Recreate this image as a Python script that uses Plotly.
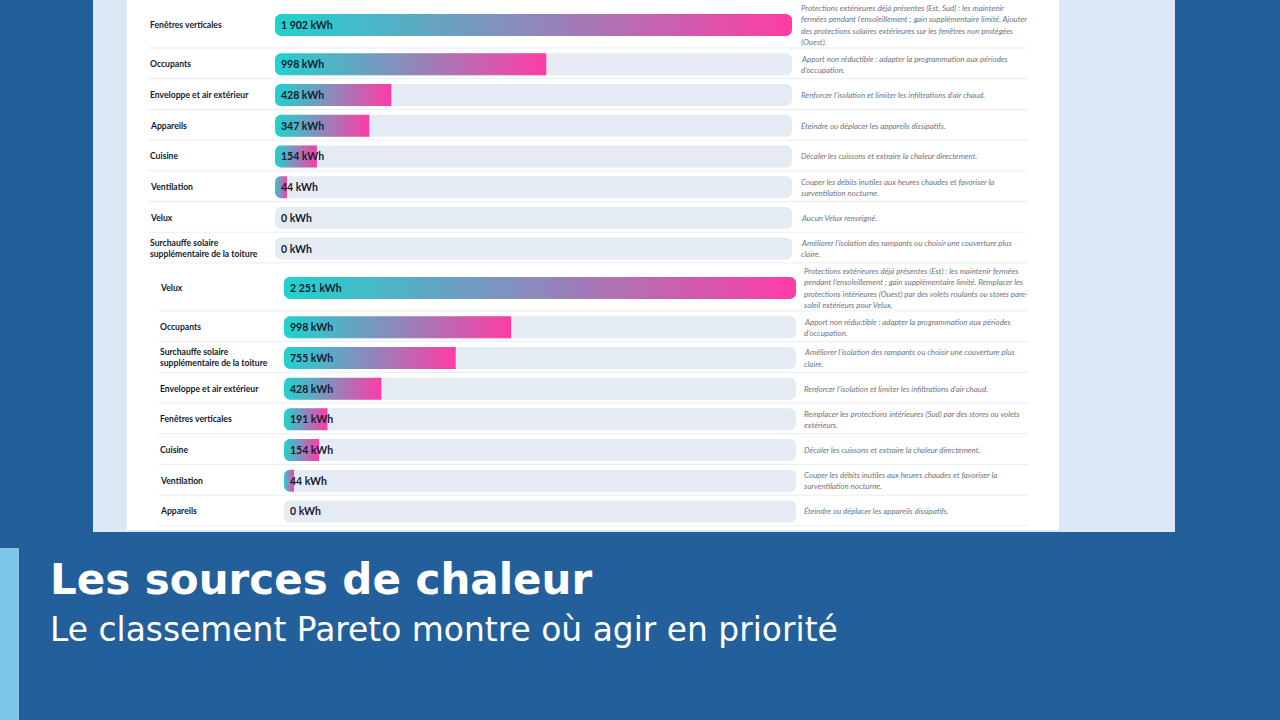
import math
import plotly.graph_objects as go

# ---------------- DATA ----------------
top_categories = ["Fenêtres verticales", "Occupants", "Enveloppe et air extérieur", "Appareils",
                  "Cuisine", "Ventilation", "Velux", "Surchauffe solaire<br>supplémentaire de la toiture"]
top_values = [1902, 998, 428, 347, 154, 44, 0, 0]
top_actions = [
    "Protections extérieures déjà présentes (Est, Sud) : les maintenir<br>fermées pendant l’ensoleillement ; gain supplémentaire limité. Ajouter<br>des protections solaires extérieures sur les fenêtres non protégées<br>(Ouest).",
    "Apport non réductible : adapter la programmation aux périodes<br>d’occupation.",
    "Renforcer l’isolation et limiter les infiltrations d’air chaud.",
    "Éteindre ou déplacer les appareils dissipatifs.",
    "Décaler les cuissons et extraire la chaleur directement.",
    "Couper les débits inutiles aux heures chaudes et favoriser la<br>surventilation nocturne.",
    "Aucun Velux renseigné.",
    "Améliorer l’isolation des rampants ou choisir une couverture plus<br>claire.",
]

bottom_categories = ["Velux", "Occupants", "Surchauffe solaire<br>supplémentaire de la toiture",
                     "Enveloppe et air extérieur", "Fenêtres verticales", "Cuisine", "Ventilation", "Appareils"]
bottom_values = [2251, 998, 755, 428, 191, 154, 44, 0]
bottom_actions = [
    "Protections extérieures déjà présentes (Est) : les maintenir fermées<br>pendant l’ensoleillement ; gain supplémentaire limité. Remplacer les<br>protections intérieures (Ouest) par des volets roulants ou stores pare-<br>soleil extérieurs pour Velux.",
    "Apport non réductible : adapter la programmation aux périodes<br>d’occupation.",
    "Améliorer l’isolation des rampants ou choisir une couverture plus<br>claire.",
    "Renforcer l’isolation et limiter les infiltrations d’air chaud.",
    "Remplacer les protections intérieures (Sud) par des stores ou volets<br>extérieurs.",
    "Décaler les cuissons et extraire la chaleur directement.",
    "Couper les débits inutiles aux heures chaudes et favoriser la<br>surventilation nocturne.",
    "Éteindre ou déplacer les appareils dissipatifs.",
]

title_text = "Les sources de chaleur"
subtitle_text = "Le classement Pareto montre où agir en priorité"
unit = "kWh"

# ---------------- STYLE ----------------
W, H = 1280, 720
SLIDE_BG = "#235f9b"
PANEL_BG = "#dce8f5"
STRIPE = "#7ec6ea"
TRACK = "#e4ebf3"
SEP = "#e8edf2"
LABEL_C = "#141a30"
DESC_C = "#6e7480"
GRAD = [[0, "#1fd3cf"], [1, "#ff3ca6"]]
BAR_H = 22
RADIUS = 6
ROW_H = 30.7
DESC_LINE = 11.3
PLOT_PX = 530  # y axis spans 0..530 px of the page

tables = [
    dict(cats=top_categories, vals=top_values, acts=top_actions, xaxis="x",
         track_px=(275, 792), label_px=148, desc_px=799, sep_px=(148, 1027)),
    dict(cats=bottom_categories, vals=bottom_values, acts=bottom_actions, xaxis="x2",
         track_px=(284, 796), label_px=158, desc_px=802, sep_px=(158, 1028)),
]

fig = go.Figure()
shapes = []
annotations = []


def px(xp):
    return xp / W


def py(yp):
    return 1 - yp / H


def fmt(v):
    return f"{v:,}".replace(",", " ") + " " + unit


def outline(v, yc, ppu, round_right):
    h = BAR_H / 2
    r = min(RADIUS, v * ppu)
    rx = r / ppu
    n = 10
    xs, ys = [], []
    for k in range(n + 1):
        t = math.pi / 2 * (1 - k / n)
        xs.append(rx - rx * math.cos(t)); ys.append(yc + h - r + r * math.sin(t))
    for k in range(n + 1):
        t = math.pi / 2 * k / n
        xs.append(rx - rx * math.cos(t)); ys.append(yc - h + r - r * math.sin(t))
    if round_right:
        for k in range(n + 1):
            t = math.pi / 2 * (1 - k / n)
            xs.append(v - rx + rx * math.cos(t)); ys.append(yc - h + r - r * math.sin(t))
        for k in range(n + 1):
            t = math.pi / 2 * k / n
            xs.append(v - rx + rx * math.cos(t)); ys.append(yc + h - r + r * math.sin(t))
    else:
        xs += [v, v]; ys += [yc - h, yc + h]
    xs.append(xs[0]); ys.append(ys[0])
    return xs, ys


cursor = 0.0
for ti, t in enumerate(tables):
    vals = t["vals"]
    mx = max(vals)
    ppu = (t["track_px"][1] - t["track_px"][0]) / mx
    centers = []
    for ci, act in enumerate(t["acts"]):
        nl = act.count("<br>") + 1
        rh = max(ROW_H, 12 * nl)
        yc = cursor + rh / 2 + 1
        centers.append(yc)
        cursor += rh
        shapes.append(dict(type="line", xref="paper", yref="y", x0=px(t["sep_px"][0]), x1=px(t["sep_px"][1]),
                           y0=cursor, y1=cursor, line=dict(color=SEP, width=1), layer="below"))
        annotations.append(dict(xref="paper", yref="y", x=px(t["label_px"]), y=yc, xanchor="left", yanchor="middle",
                                text=f"<b>{t['cats'][ci]}</b>", showarrow=False, align="left",
                                font=dict(family="Lato", size=8.6, color=LABEL_C, weight=900)))
        lines = act.split("<br>")
        for li, ln in enumerate(lines):
            annotations.append(dict(xref="paper", yref="y", x=px(t["desc_px"]),
                                    y=yc + (li - (len(lines) - 1) / 2) * DESC_LINE,
                                    xanchor="left", yanchor="middle", text=f"<i>{ln}</i>", showarrow=False,
                                    font=dict(family="Lato", size=7.9, color=DESC_C)))
        annotations.append(dict(xref=t["xaxis"], yref="y", x=0, y=yc, xanchor="left", yanchor="middle",
                                xshift=4, text=f"<b>{fmt(vals[ci])}</b>", showarrow=False,
                                font=dict(family="Lato", size=10.5, color=LABEL_C, weight=900)))
    # tracks
    for yc in centers:
        xs, ys = outline(mx, yc, ppu, True)
        fig.add_trace(go.Scatter(x=xs, y=ys, fill="toself", mode="lines", fillcolor=TRACK,
                                 line=dict(width=0, color="rgba(0,0,0,0)"),
                                 xaxis=t["xaxis"], yaxis="y", hoverinfo="skip", showlegend=False))
    # gradient bars
    for v, yc in zip(vals, centers):
        if v <= 0:
            continue
        xs, ys = outline(v, yc, ppu, v == mx)
        fig.add_trace(go.Scatter(x=xs, y=ys, fill="toself", mode="lines",
                                 line=dict(width=0, color="rgba(0,0,0,0)"),
                                 fillgradient=dict(type="horizontal", colorscale=GRAD),
                                 xaxis=t["xaxis"], yaxis="y", hoverinfo="skip", showlegend=False))

# ---------------- BACKGROUND ----------------
bg = [
    dict(type="rect", xref="paper", yref="paper", x0=px(93), x1=px(1175), y0=py(532), y1=1,
         fillcolor=PANEL_BG, line=dict(width=0), layer="below"),
    dict(type="rect", xref="paper", yref="paper", x0=px(127), x1=px(1059), y0=py(530), y1=1,
         fillcolor="white", line=dict(width=0), layer="below"),
    dict(type="rect", xref="paper", yref="paper", x0=0, x1=px(19), y0=0, y1=py(548),
         fillcolor=STRIPE, line=dict(width=0), layer="below"),
]

annotations.append(dict(xref="paper", yref="paper", x=px(48), y=py(579), xanchor="left", yanchor="middle",
                        text=f"<b>{title_text}</b>", showarrow=False,
                        font=dict(family="DejaVu Sans", size=42, color="white")))
annotations.append(dict(xref="paper", yref="paper", x=px(48), y=py(629), xanchor="left", yanchor="middle",
                        text=subtitle_text, showarrow=False,
                        font=dict(family="DejaVu Sans", size=32.9, color="white")))

fig.update_layout(
    width=W, height=H, margin=dict(l=0, r=0, t=0, b=0),
    paper_bgcolor=SLIDE_BG, plot_bgcolor="rgba(0,0,0,0)",
    showlegend=False,
    shapes=bg + shapes, annotations=annotations,
    xaxis=dict(domain=[px(275), px(792)], range=[0, max(top_values)], visible=False, fixedrange=True),
    xaxis2=dict(domain=[px(284), px(796)], range=[0, max(bottom_values)], visible=False, anchor="y",
                fixedrange=True),
    yaxis=dict(domain=[py(PLOT_PX), 1], range=[PLOT_PX, 0], visible=False, fixedrange=True),
)

fig.write_html("out.html", config={"displayModeBar": False},
               post_script="document.body.style.margin='0';document.body.style.overflow='hidden';")
